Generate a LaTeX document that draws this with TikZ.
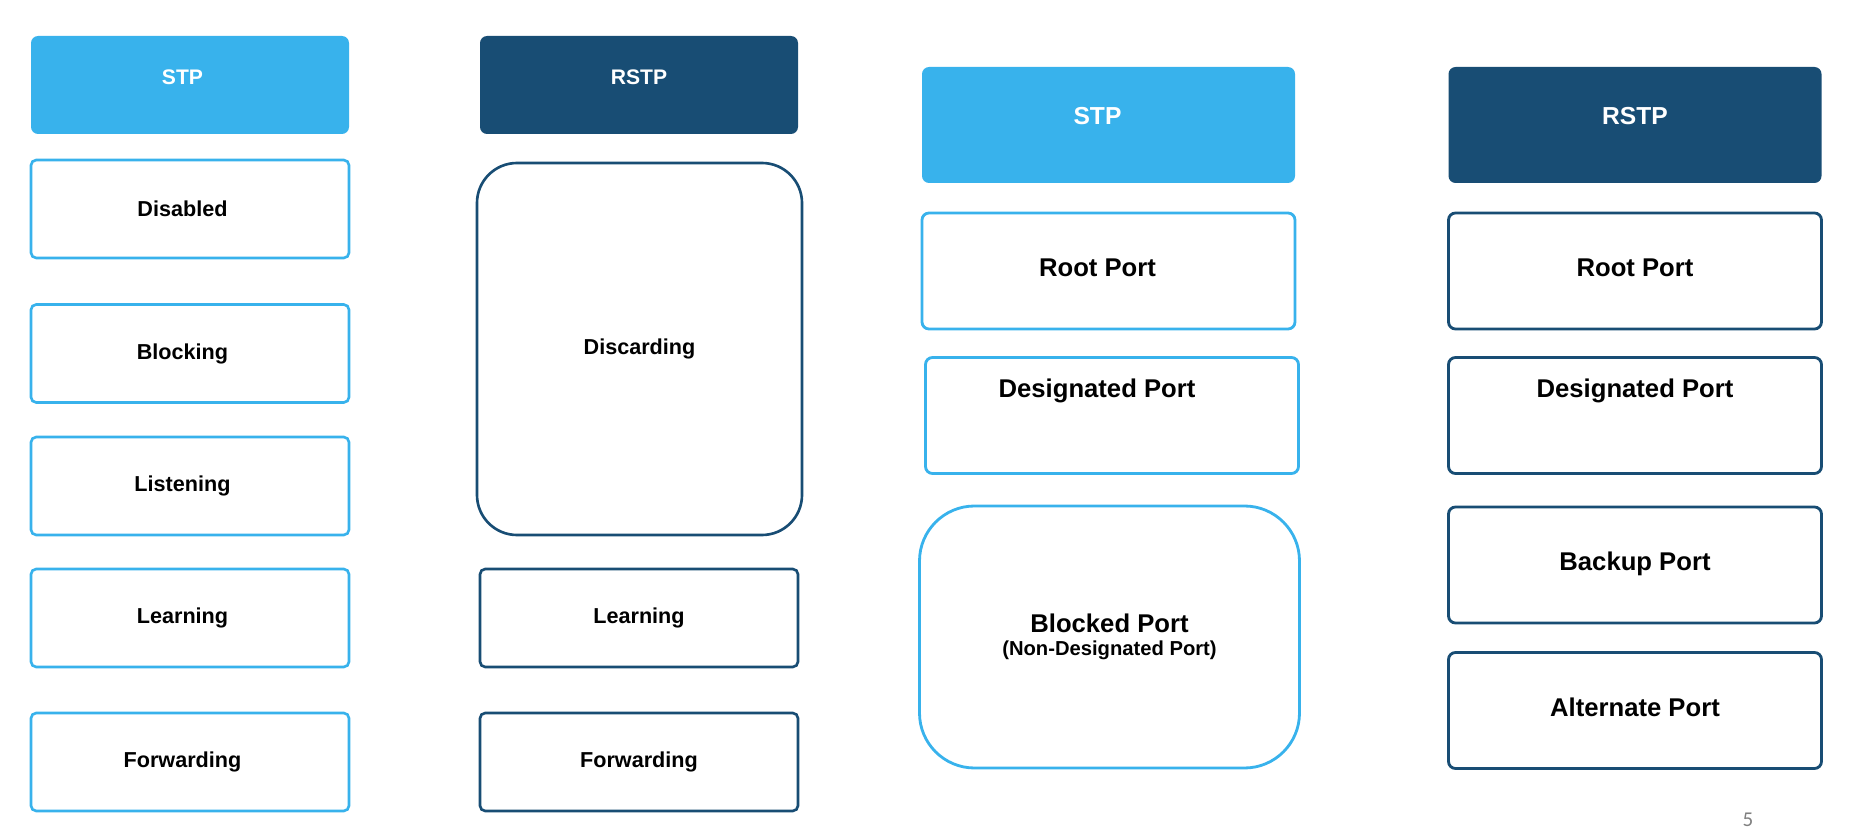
\documentclass[tikz,border=0pt]{standalone}
\usepackage{fontspec}
\setmainfont{Liberation Sans}
\newfontfamily\pagefont{Carlito}
\definecolor{sky}{RGB}{56,178,236}
\definecolor{navy}{RGB}{24,77,116}
\definecolor{pagegray}{RGB}{128,128,128}
\tikzset{
  head/.style={fill=#1,text=white,rounded corners=4pt,minimum width=6.36cm,minimum height=1.96cm,
    text height=0.3cm,text depth=0.3cm,font=\fontsize{12}{14}\selectfont\bfseries},
  head/.default=sky,
  state/.style={draw=#1,fill=white,line width=1.5pt,rounded corners=3pt,minimum width=6.36cm,
    minimum height=1.96cm,font=\fontsize{12.3}{14}\selectfont\bfseries},
  state/.default=sky,
  role/.style={draw=#1,fill=white,line width=1.6pt,rounded corners=4pt,minimum width=7.46cm,
    minimum height=2.32cm,align=center,font=\fontsize{14.6}{16}\selectfont\bfseries},
  role/.default=sky,
  nudge/.style={execute at begin node={\hspace*{#1}}},
}

\begin{document}
\begin{tikzpicture}
    \useasboundingbox (0,0) rectangle (37.28,-16.78);
    % port states
    \node[head=sky,nudge=-0.3cm] (h1) at (3.80,-1.70) {STP};
    \node[head=navy] (h2) at (12.78,-1.70) {RSTP};
    \foreach \t/\y [count=\i] in {Disabled/-4.18,Blocking/-7.07,Listening/-9.72,Learning/-12.36,Forwarding/-15.24}{
      \node[state=sky,nudge=-0.3cm] (st\i) at (3.80,\y) {\t};
    }
    \node[state=navy,minimum width=6.5cm,minimum height=7.44cm,rounded corners=0.8cm] (rs1) at (12.79,-6.98) {Discarding};
    \foreach \t/\y [count=\i from 2] in {Learning/-12.36,Forwarding/-15.24}{
      \node[state=navy] (rs\i) at (12.78,\y) {\t};
    }
    % port roles
    \node[head=sky,nudge=-0.44cm,minimum width=7.46cm,minimum height=2.32cm,font=\fontsize{14}{16}\selectfont\bfseries] (h3) at (22.17,-2.50) {STP};
    \node[head=navy,minimum width=7.46cm,minimum height=2.32cm,font=\fontsize{14}{16}\selectfont\bfseries] (h4) at (32.70,-2.50) {RSTP};
    \node[role=sky,nudge=-0.44cm,text height=0.35cm,text depth=0.12cm] (sr1) at (22.17,-5.42) {Root Port};
    \node[role=sky,nudge=-0.6cm,text height=0.35cm,text depth=1.06cm] (sr2) at (22.24,-8.31) {Designated Port};
    \node[role=sky,minimum width=7.6cm,minimum height=5.24cm,rounded corners=1.1cm] (sr3) at (22.19,-12.74)
      {Blocked Port\\[-3pt]{\fontsize{11.5}{13}\selectfont (Non-Designated Port)}};
    \foreach \t/\y/\d [count=\i] in {Root Port/-5.42/0.12cm,Designated Port/-8.31/1.06cm,Backup Port/-11.30/0.12cm,Alternate Port/-14.21/0.12cm}{
      \node[role=navy,text height=0.35cm,text depth=\d] (rr\i) at (32.70,\y) {\t};
    }
    \node[font=\fontsize{12}{14}\selectfont\pagefont,text=pagegray] (pg) at (34.96,-16.40) {5};
\end{tikzpicture}
\end{document}
